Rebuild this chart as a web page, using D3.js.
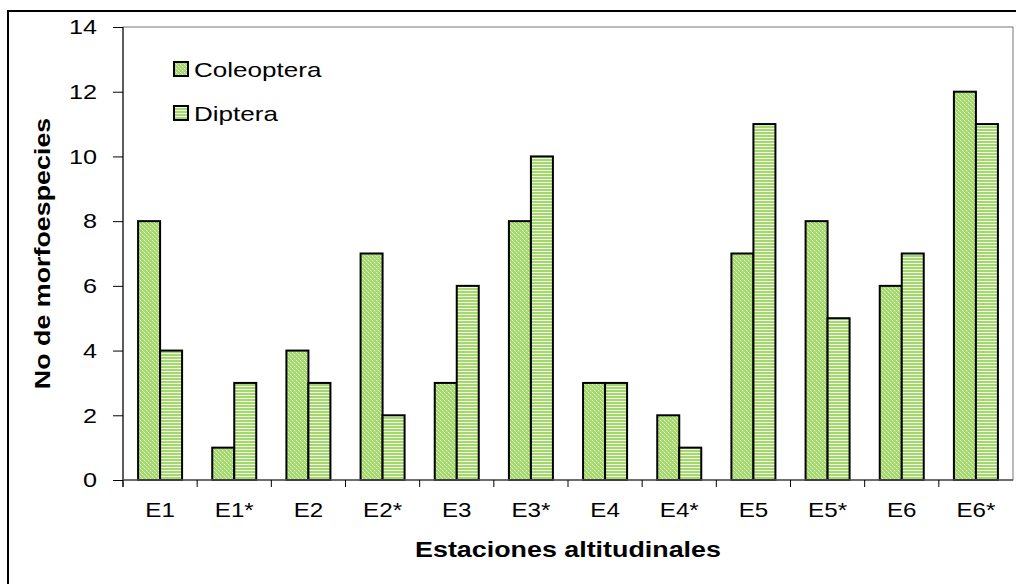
<!DOCTYPE html>
<html><head><meta charset="utf-8">
<script src="https://cdn.jsdelivr.net/npm/d3@7"></script>
<style>body{margin:0;background:#fff}svg{display:block}</style>
</head><body><svg id="c" width="1016" height="584"></svg>
<script>
const categories = ["E1","E1*","E2","E2*","E3","E3*","E4","E4*","E5","E5*","E6","E6*"];
const coleoptera = [8,1,4,7,3,8,3,2,7,8,6,12];
const diptera = [4,3,3,2,6,10,3,1,11,5,7,11];
const seriesNames = ["Coleoptera","Diptera"];
const yTicks = [0,2,4,6,8,10,12,14];

const svg = d3.select("#c");
const font = "'Liberation Sans', Arial, sans-serif";
function stretch(k){
  return sel => sel.each(function(){
    const w = this.getComputedTextLength();
    d3.select(this).attr("textLength", w*k).attr("lengthAdjust","spacingAndGlyphs");
  });
}
const defs = svg.append("defs");
const p1 = defs.append("pattern").attr("id","pc").attr("patternUnits","userSpaceOnUse").attr("width",4).attr("height",4);
p1.append("rect").attr("width",4).attr("height",4).attr("fill","#a5d86c");
p1.append("rect").attr("x",0).attr("y",0).attr("width",1).attr("height",1).attr("fill","#e6f5d6");
p1.append("rect").attr("x",2).attr("y",2).attr("width",1).attr("height",1).attr("fill","#e6f5d6");
p1.append("rect").attr("x",1).attr("y",1).attr("width",1).attr("height",1).attr("fill","#c8e9a5");
p1.append("rect").attr("x",3).attr("y",3).attr("width",1).attr("height",1).attr("fill","#c8e9a5");
const p2 = defs.append("pattern").attr("id","pd").attr("patternUnits","userSpaceOnUse").attr("width",4).attr("height",3);
p2.append("rect").attr("width",4).attr("height",3).attr("fill","#f2faea");
p2.append("rect").attr("y",0).attr("width",4).attr("height",2).attr("fill","#a5d86c");

svg.append("rect").attr("x",8).attr("y",11).attr("width",1100).attr("height",700)
  .attr("fill","none").attr("stroke","#000").attr("stroke-width",2);

const m = {l:123, r:1013, t:27, b:480};
const x = d3.scaleBand().domain(categories).range([m.l, m.r]);
const y = d3.scaleLinear().domain([0,14]).range([m.b, m.t]);

svg.append("rect").attr("x",m.l).attr("y",m.t).attr("width",m.r-m.l).attr("height",m.b-m.t)
  .attr("fill","none").attr("stroke","#777").attr("stroke-width",1);

const bw = 22;
const g = svg.append("g");
categories.forEach((c,i)=>{
  const cx = x(c) + x.bandwidth()/2;
  [[coleoptera[i],"url(#pc)",cx-bw],[diptera[i],"url(#pd)",cx]].forEach(([v,f,x0])=>{
    g.append("rect").attr("x",x0).attr("y",y(v)).attr("width",bw).attr("height",y(0)-y(v))
      .attr("fill",f).attr("stroke","#000").attr("stroke-width",2);
  });
});

const ya = svg.append("g").attr("transform",`translate(${m.l},0)`)
  .call(d3.axisLeft(y).tickValues(yTicks).tickSize(10).tickPadding(16).tickSizeOuter(0));
ya.select(".domain").attr("stroke","#000").attr("d",`M0,${m.t}V${m.b+7}`);
ya.selectAll(".tick line").attr("stroke","#000");
ya.selectAll("text").attr("font-family",font).attr("font-size",21).attr("fill","#000").call(stretch(1.2));

const xa = svg.append("g").attr("transform",`translate(0,${m.b})`)
  .call(d3.axisBottom(x).tickSize(0).tickPadding(22));
xa.select(".domain").attr("stroke","#555").attr("stroke-width",1.5).attr("d",`M${m.l},0H${m.r}`);
xa.selectAll("text").attr("font-family",font).attr("font-size",21).attr("fill","#000").call(stretch(1.15));
xa.selectAll(".sep").data(d3.range(categories.length)).enter().append("line")
  .attr("x1",i=>m.l+i*x.step()).attr("x2",i=>m.l+i*x.step()).attr("y1",0).attr("y2",7).attr("stroke","#000");

svg.append("text").attr("x",(m.l+m.r)/2).attr("y",557).attr("text-anchor","middle")
  .attr("font-family",font).attr("font-size",22).attr("font-weight","bold").text("Estaciones altitudinales").call(stretch(1.22));
svg.append("text").attr("transform",`translate(50,${(m.t+m.b)/2}) rotate(-90)`).attr("text-anchor","middle")
  .attr("font-family",font).attr("font-size",22).attr("font-weight","bold").text("No de morfoespecies").call(stretch(1.22));

const fills = ["url(#pc)","url(#pd)"];
seriesNames.forEach((s,i)=>{
  const ly = 62 + i*44;
  svg.append("rect").attr("x",174).attr("y",ly).attr("width",14).attr("height",14)
    .attr("fill",fills[i]).attr("stroke","#000").attr("stroke-width",2);
  svg.append("text").attr("x",194).attr("y",ly+15).attr("font-family",font).attr("font-size",21).text(s).call(stretch(1.24));
});
</script></body></html>
